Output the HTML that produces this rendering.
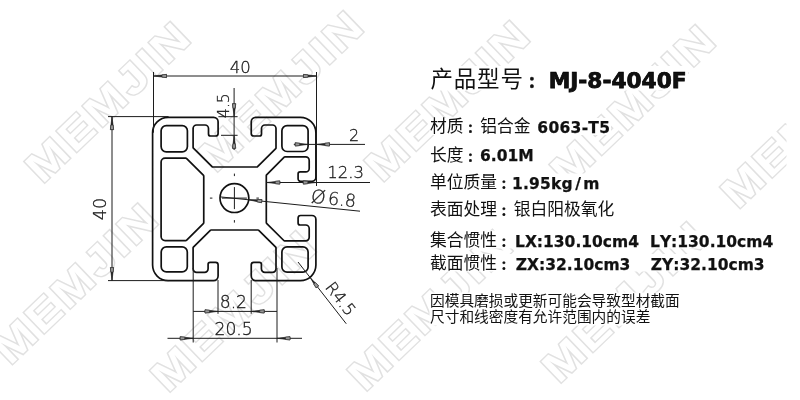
<!DOCTYPE html>
<html lang="zh-CN"><head><meta charset="utf-8"><title>MJ-8-4040F</title>
<style>
html,body{margin:0;padding:0;background:#fff;}
body{width:800px;height:400px;position:relative;overflow:hidden;font-family:"Liberation Sans","Noto Sans CJK SC",sans-serif;color:#111;}
svg{position:absolute;left:0;top:0;filter:grayscale(1);}
.wm{font-family:"Liberation Sans",sans-serif;font-weight:bold;font-size:42px;letter-spacing:2.8px;fill:#fff;stroke:#e1e1e1;stroke-width:3px;paint-order:stroke fill;vector-effect:non-scaling-stroke;stroke-linejoin:miter;}
.pf{fill:none;stroke:#111;stroke-width:1.7px;stroke-linejoin:round;}
.d{stroke:#1c1c1c;stroke-width:1px;fill:none;}
.ah{fill:#222;stroke:#222;stroke-width:0.6px;}
.ab{fill:#999;stroke:#333;stroke-width:0.7px;}
.dt{font-family:"DejaVu Sans Light","DejaVu Sans","Liberation Sans",sans-serif;font-weight:200;font-size:16.5px;fill:#1a1a1a;stroke:#1a1a1a;stroke-width:0.3px;}
.t{position:absolute;left:430px;white-space:nowrap;line-height:1;margin:0;font-size:16.75px;filter:grayscale(1);}
.t b{font-family:"DejaVu Sans","Liberation Sans",sans-serif;font-weight:bold;font-size:15.5px;position:absolute;top:1.5px;font-kerning:none;-webkit-text-stroke:0.25px #111;}
.t u{text-decoration:none;padding:0 2.3px;}
.c{font-family:"Liberation Sans","Noto Sans CJK SC",sans-serif;}
.c i{font-style:normal;font-weight:900;font-family:"Noto Sans CJK TC","Noto Sans CJK SC",sans-serif;font-size:0.68em;padding:0 0.2353em;position:relative;top:1px;left:-1.4px;letter-spacing:0;-webkit-text-stroke:0.5px #111;}
</style></head><body>
<svg width="800" height="400" viewBox="0 0 800 400" >
<g><text class="wm" transform="translate(42.6,184.6) rotate(-43.8) scale(1.17,1)">MEMJIN</text><text class="wm" transform="translate(215.6,173.6) rotate(-43.8) scale(1.17,1)">MEMJIN</text><text class="wm" transform="translate(382.0,183.3) rotate(-43.8) scale(1.17,1)">MEMJIN</text><text class="wm" transform="translate(567.6,187.6) rotate(-43.8) scale(1.17,1)">MEMJIN</text><text class="wm" transform="translate(738.1,210.1) rotate(-43.8) scale(1.17,1)">MEMJIN</text><text class="wm" transform="translate(10.2,366.1) rotate(-43.8) scale(1.17,1)">MEMJIN</text><text class="wm" transform="translate(168.1,393.6) rotate(-43.8) scale(1.17,1)">MEMJIN</text><text class="wm" transform="translate(364.9,392.4) rotate(-43.8) scale(1.17,1)">MEMJIN</text><text class="wm" transform="translate(558.9,384.6) rotate(-43.8) scale(1.17,1)">MEMJIN</text><rect x="786.5" y="0" width="14" height="400" fill="#fff"/><rect x="429.5" y="66.0" width="258.5" height="24.5" fill="#fff"/><rect x="429.5" y="118.0" width="181.5" height="17.0" fill="#fff"/><rect x="429.5" y="146.0" width="105.5" height="17.0" fill="#fff"/><rect x="429.5" y="173.5" width="171.0" height="17.5" fill="#fff"/><rect x="429.5" y="200.5" width="186.5" height="17.0" fill="#fff"/><rect x="429.5" y="230.5" width="346.5" height="18.0" fill="#fff"/><rect x="429.5" y="254.0" width="337.0" height="17.5" fill="#fff"/><rect x="429.5" y="292.5" width="253.5" height="33.0" fill="#fff"/></g>
<path class="pf" d="M152.60 132.80 A15.50 15.50 0 0 1 168.10 117.30 L213.60 117.30 A4.50 4.50 0 0 1 218.10 121.80 L218.10 133.50 A2.50 2.50 0 0 1 215.60 136.00 L210.50 136.00 A2.00 2.00 0 0 1 208.50 134.00 L208.50 128.50 A3.50 3.50 0 0 0 205.00 125.00 L196.60 125.00 A3.50 3.50 0 0 0 193.10 128.50 L193.10 147.39 A1.00 1.00 0 0 0 193.39 148.09 L212.01 166.71 A1.00 1.00 0 0 0 212.71 167.00 L256.89 167.00 A1.00 1.00 0 0 0 257.59 166.71 L275.71 148.59 A1.00 1.00 0 0 0 276.00 147.89 L276.00 128.50 A3.50 3.50 0 0 0 272.50 125.00 L265.00 125.00 A3.50 3.50 0 0 0 261.50 128.50 L261.50 134.00 A2.00 2.00 0 0 1 259.50 136.00 L253.75 136.00 A2.50 2.50 0 0 1 251.25 133.50 L251.25 121.80 A4.50 4.50 0 0 1 255.75 117.30 L300.40 117.30 A15.50 15.50 0 0 1 315.90 132.80 L315.90 177.30 A4.00 4.00 0 0 1 311.90 181.30 L300.60 181.30 A2.50 2.50 0 0 1 298.10 178.80 L298.10 173.90 A2.00 2.00 0 0 1 300.10 171.90 L305.70 171.90 A3.50 3.50 0 0 0 309.20 168.40 L309.20 160.40 A3.50 3.50 0 0 0 305.70 156.90 L284.91 156.90 A1.00 1.00 0 0 0 284.21 157.19 L266.59 174.81 A1.00 1.00 0 0 0 266.30 175.51 L266.30 222.59 A1.00 1.00 0 0 0 266.59 223.29 L283.81 240.51 A1.00 1.00 0 0 0 284.51 240.80 L305.70 240.80 A3.50 3.50 0 0 0 309.20 237.30 L309.20 228.50 A3.50 3.50 0 0 0 305.70 225.00 L300.10 225.00 A2.00 2.00 0 0 1 298.10 223.00 L298.10 218.00 A2.50 2.50 0 0 1 300.60 215.50 L311.90 215.50 A4.00 4.00 0 0 1 315.90 219.50 L315.90 265.10 A15.50 15.50 0 0 1 300.40 280.60 L255.75 280.60 A4.50 4.50 0 0 1 251.25 276.10 L251.25 264.80 A2.50 2.50 0 0 1 253.75 262.30 L259.40 262.30 A2.00 2.00 0 0 1 261.40 264.30 L261.40 268.80 A3.50 3.50 0 0 0 264.90 272.30 L272.50 272.30 A3.50 3.50 0 0 0 276.00 268.80 L276.00 247.91 A1.00 1.00 0 0 0 275.71 247.21 L258.79 230.29 A1.00 1.00 0 0 0 258.09 230.00 L211.01 230.00 A1.00 1.00 0 0 0 210.31 230.29 L193.39 247.21 A1.00 1.00 0 0 0 193.10 247.91 L193.10 268.80 A3.50 3.50 0 0 0 196.60 272.30 L204.60 272.30 A3.50 3.50 0 0 0 208.10 268.80 L208.10 264.30 A2.00 2.00 0 0 1 210.10 262.30 L215.60 262.30 A2.50 2.50 0 0 1 218.10 264.80 L218.10 276.10 A4.50 4.50 0 0 1 213.60 280.60 L168.10 280.60 A15.50 15.50 0 0 1 152.60 265.10 Z M161.10 130.80 A5.20 5.20 0 0 1 166.30 125.60 L182.20 125.60 A5.20 5.20 0 0 1 187.40 130.80 L187.40 146.60 A5.20 5.20 0 0 1 182.20 151.80 L166.30 151.80 A5.20 5.20 0 0 1 161.10 146.60 Z M281.90 130.80 A5.20 5.20 0 0 1 287.10 125.60 L302.90 125.60 A5.20 5.20 0 0 1 308.10 130.80 L308.10 146.30 A5.20 5.20 0 0 1 302.90 151.50 L287.10 151.50 A5.20 5.20 0 0 1 281.90 146.30 Z M161.20 252.10 A5.20 5.20 0 0 1 166.40 246.90 L182.10 246.90 A5.20 5.20 0 0 1 187.30 252.10 L187.30 266.70 A5.20 5.20 0 0 1 182.10 271.90 L166.40 271.90 A5.20 5.20 0 0 1 161.20 266.70 Z M281.90 252.10 A5.20 5.20 0 0 1 287.10 246.90 L302.90 246.90 A5.20 5.20 0 0 1 308.10 252.10 L308.10 267.00 A5.20 5.20 0 0 1 302.90 272.20 L287.10 272.20 A5.20 5.20 0 0 1 281.90 267.00 Z M161.10 162.10 A4.00 4.00 0 0 1 165.10 158.10 L185.63 158.10 A1.50 1.50 0 0 1 186.69 158.54 L203.31 175.16 A1.50 1.50 0 0 1 203.75 176.22 L203.75 222.48 A1.50 1.50 0 0 1 203.31 223.54 L186.69 240.16 A1.50 1.50 0 0 1 185.63 240.60 L165.10 240.60 A4.00 4.00 0 0 1 161.10 236.60 Z"/>
<circle class="pf" cx="234.40" cy="198.10" r="14.4"/>
<line class="d" x1="221.90" y1="198.10" x2="246.90" y2="198.10"/>
<line class="d" x1="234.40" y1="187.10" x2="234.40" y2="209.10"/>
<line class="d" x1="209.90" y1="198.10" x2="212.40" y2="198.10"/>
<line class="d" x1="256.40" y1="198.10" x2="258.90" y2="198.10"/>
<line class="d" x1="234.40" y1="173.60" x2="234.40" y2="176.10"/>
<line class="d" x1="234.40" y1="220.10" x2="234.40" y2="222.60"/>
<line class="d" x1="153.50" y1="72.00" x2="153.50" y2="132.70"/>
<line class="d" x1="316.50" y1="72.00" x2="316.50" y2="186.00"/>
<line class="d" x1="153.50" y1="76.00" x2="316.50" y2="76.00"/>
<polygon class="ah" points="153.50,76.00 166.50,74.40 166.50,77.60"/><polygon class="ab" points="166.50,74.40 166.50,77.60 162.00,77.20 162.00,74.80"/>
<polygon class="ah" points="316.50,76.00 303.50,77.60 303.50,74.40"/><polygon class="ab" points="303.50,77.60 303.50,74.40 308.00,74.80 308.00,77.20"/>
<text class="dt" x="240.2" y="73" text-anchor="middle">40</text>
<line class="d" x1="108.00" y1="116.60" x2="168.60" y2="116.60"/>
<line class="d" x1="108.00" y1="280.60" x2="168.60" y2="280.60"/>
<line class="d" x1="112.00" y1="116.60" x2="112.00" y2="280.60"/>
<polygon class="ah" points="112.00,116.60 113.60,129.60 110.40,129.60"/><polygon class="ab" points="113.60,129.60 110.40,129.60 110.80,125.10 113.20,125.10"/>
<polygon class="ah" points="112.00,280.60 110.40,267.60 113.60,267.60"/><polygon class="ab" points="110.40,267.60 113.60,267.60 113.20,272.10 110.80,272.10"/>
<text class="dt" transform="translate(105.5,209) rotate(-90)" text-anchor="middle" style="font-size:17.5px">40</text>
<line class="d" x1="234.10" y1="88.00" x2="234.10" y2="150.00"/>
<line class="d" x1="218.40" y1="116.70" x2="237.60" y2="116.70"/>
<line class="d" x1="221.00" y1="135.30" x2="237.60" y2="135.30"/>
<polygon class="ah" points="234.10,116.70 232.50,103.70 235.70,103.70"/><polygon class="ab" points="232.50,103.70 235.70,103.70 235.30,108.20 232.90,108.20"/>
<polygon class="ah" points="234.10,135.30 235.70,148.30 232.50,148.30"/><polygon class="ab" points="235.70,148.30 232.50,148.30 232.90,143.80 235.30,143.80"/>
<text class="dt" transform="translate(228.6,105.6) rotate(-90)" text-anchor="middle" style="font-size:15.5px">4.5</text>
<line class="d" x1="293.80" y1="144.40" x2="365.00" y2="144.40"/>
<polygon class="ah" points="308.20,144.40 295.20,146.00 295.20,142.80"/><polygon class="ab" points="295.20,146.00 295.20,142.80 299.70,143.20 299.70,145.60"/>
<polygon class="ah" points="316.50,144.40 329.50,142.80 329.50,146.00"/><polygon class="ab" points="329.50,142.80 329.50,146.00 325.00,145.60 325.00,143.20"/>
<text class="dt" x="354" y="140.6" text-anchor="middle" style="font-size:16px">2</text>
<line class="d" x1="266.50" y1="182.50" x2="370.00" y2="182.50"/>
<polygon class="ah" points="266.80,182.50 279.80,180.90 279.80,184.10"/><polygon class="ab" points="279.80,180.90 279.80,184.10 275.30,183.70 275.30,181.30"/>
<polygon class="ah" points="316.30,182.50 303.30,184.10 303.30,180.90"/><polygon class="ab" points="303.30,184.10 303.30,180.90 307.80,181.30 307.80,183.70"/>
<text class="dt" x="345.6" y="178.4" text-anchor="middle" style="font-size:16.5px">12.3</text>
<line class="d" x1="220.40" y1="196.90" x2="360.00" y2="211.20"/>
<polygon class="ah" points="248.80,199.80 261.90,199.54 261.57,202.73"/><polygon class="ab" points="261.90,199.54 261.57,202.73 257.13,201.87 257.38,199.48"/>
<text class="dt" transform="translate(310.6,202.6) rotate(5.9)" style="font-size:18.5px">&#216;<tspan dx="2.5" style="font-size:17.6px">6.8</tspan></text>
<line class="d" x1="218.00" y1="280.00" x2="218.00" y2="313.80"/>
<line class="d" x1="251.20" y1="280.00" x2="251.20" y2="313.80"/>
<line class="d" x1="193.20" y1="311.40" x2="277.00" y2="311.40"/>
<polygon class="ah" points="218.00,311.40 205.00,313.00 205.00,309.80"/><polygon class="ab" points="205.00,313.00 205.00,309.80 209.50,310.20 209.50,312.60"/>
<polygon class="ah" points="251.20,311.40 264.20,309.80 264.20,313.00"/><polygon class="ab" points="264.20,309.80 264.20,313.00 259.70,312.60 259.70,310.20"/>
<text class="dt" x="233.4" y="307.6" text-anchor="middle" style="font-size:17.2px">8.2</text>
<line class="d" x1="193.20" y1="268.00" x2="193.20" y2="342.50"/>
<line class="d" x1="277.00" y1="268.00" x2="277.00" y2="342.50"/>
<line class="d" x1="167.50" y1="338.30" x2="302.00" y2="338.30"/>
<polygon class="ah" points="193.20,338.30 180.20,339.90 180.20,336.70"/><polygon class="ab" points="180.20,339.90 180.20,336.70 184.70,337.10 184.70,339.50"/>
<polygon class="ah" points="277.00,338.30 290.00,336.70 290.00,339.90"/><polygon class="ab" points="290.00,336.70 290.00,339.90 285.50,339.50 285.50,337.10"/>
<text class="dt" x="233.6" y="334.9" text-anchor="middle" style="font-size:17.2px">20.5</text>
<line class="d" x1="298.00" y1="262.00" x2="346.25" y2="323.75"/>
<polygon class="ah" points="310.60,278.20 318.63,285.88 316.11,287.85"/><polygon class="ab" points="318.63,285.88 316.11,287.85 313.66,284.06 315.55,282.58"/>
<text class="dt" transform="translate(324.6,287.4) rotate(52.0)" style="font-size:16.5px">R4.5</text>
</svg>
<p class="t" style="top:68.5px;font-size:22.5px;left:430.5px;letter-spacing:0.8px"><span class="c">产品型号<i lang="zh-TW" style="left:-3px">：</i></span><b style="font-size:21.7px;position:absolute;left:118.2px;top:1px;letter-spacing:0;-webkit-text-stroke:0.75px #000">MJ-8-4040F</b></p>
<p class="t" style="top:119px"><span class="c">材质<i lang="zh-TW">：</i>铝合金</span><b style="left:107.3px;letter-spacing:0.3px">6063-T5</b></p>
<p class="t" style="top:147.5px"><span class="c">长度<i lang="zh-TW">：</i></span><b style="left:50px">6.01M</b></p>
<p class="t" style="top:175px"><span class="c">单位质量<i lang="zh-TW">：</i></span><b style="left:82px;letter-spacing:0.2px">1.95kg<u>/</u>m</b></p>
<p class="t" style="top:202px"><span class="c">表面处理<i lang="zh-TW">：</i>银白阳极氧化</span></p>
<p class="t" style="top:233.3px"><span class="c">集合惯性<i lang="zh-TW">：</i></span><b style="left:85px">LX:130.10cm4</b><b style="left:220px">LY:130.10cm4</b></p>
<p class="t" style="top:256.3px"><span class="c">截面惯性<i lang="zh-TW">：</i></span><b style="left:85.8px">ZX:32.10cm3</b><b style="left:220.8px">ZY:32.10cm3</b></p>
<p class="t" style="top:294px;font-size:14.7px"><span class="c">因模具磨损或更新可能会导致型材截面</span></p>
<p class="t" style="top:309.5px;font-size:14.7px"><span class="c">尺寸和线密度有允许范围内的误差</span></p>
</body></html>
